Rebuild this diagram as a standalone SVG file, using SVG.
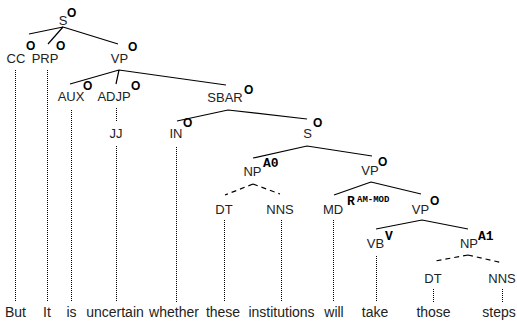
<svg xmlns="http://www.w3.org/2000/svg" width="517" height="326" viewBox="0 0 517 326">
<style>
.lb{font-family:"Liberation Sans",Arial,sans-serif;font-size:13px;fill:#222;text-anchor:middle}
.wd{font-family:"Liberation Sans",Arial,sans-serif;font-size:14px;fill:#222;text-anchor:middle}
.sp{font-family:"Liberation Mono","Courier New",monospace;font-size:13px;font-weight:bold;fill:#000}
.so{font-family:"Liberation Sans",Arial,sans-serif;font-size:12px;font-weight:bold;fill:#000}
.sm{font-family:"Liberation Mono","Courier New",monospace;font-size:9px;font-weight:bold;fill:#000}
.e{stroke:#000;stroke-width:1.2;fill:none}
.d{stroke:#000;stroke-width:1.2;fill:none;stroke-dasharray:5,4}
.t{stroke:#000;stroke-width:1;fill:none;stroke-dasharray:1,1}
</style>
<rect width="517" height="326" fill="#fff"/>
<g id="connectors">
<path class="e" d="M63 27L29 34M63 27L48 44M63 27L118 44"/>
<path class="e" d="M119 70L70 84M119 70L116 84M119 70L226 85"/>
<path class="e" d="M228 110L177 121M228 110L307 119"/>
<path class="e" d="M307 146L253 158M307 146L372 156"/>
<path class="d" d="M253 184L225 195M253 184L280 194"/>
<path class="e" d="M371 182L334 195M371 182L421 194"/>
<path class="e" d="M422 220L376 229M422 220L468 229"/>
<path class="d" d="M468 255L435 261M468 255L503 263"/>
<path class="t" d="M15.5 70V302M47.5 70V302M71.5 110V302M116.5 108V121M116.5 146V302M176.5 147V302M224.5 220V302M281.5 220V302M333.5 220V302M376.5 256V302M433.5 289V302M502.5 289V302"/>
</g>
<g id="n-S"><text class="lb" x="63" y="25">S</text><text class="so" x="67" y="17">O</text></g>
<g id="n-CC"><text class="lb" x="16" y="63">CC</text><text class="so" x="26" y="50">O</text></g>
<g id="n-PRP"><text class="lb" x="45" y="63">PRP</text><text class="so" x="56" y="50">O</text></g>
<g id="n-VP1"><text class="lb" x="119.5" y="63">VP</text><text class="so" x="128" y="51">O</text></g>
<g id="n-AUX"><text class="lb" x="71" y="101">AUX</text><text class="so" x="83" y="90">O</text></g>
<g id="n-ADJP"><text class="lb" x="114" y="101">ADJP</text><text class="so" x="131" y="90">O</text></g>
<g id="n-SBAR"><text class="lb" x="225" y="102">SBAR</text><text class="so" x="244" y="94">O</text></g>
<g id="n-JJ"><text class="lb" x="116" y="138">JJ</text></g>
<g id="n-IN"><text class="lb" x="176" y="138">IN</text><text class="so" x="183" y="127">O</text></g>
<g id="n-S2"><text class="lb" x="307.5" y="138">S</text><text class="so" x="313" y="127">O</text></g>
<g id="n-NP1"><text class="lb" x="252.5" y="176">NP</text><text class="sp" x="263" y="167">A0</text></g>
<g id="n-VP2"><text class="lb" x="370" y="175">VP</text><text class="so" x="378" y="166">O</text></g>
<g id="n-DT1"><text class="lb" x="224" y="214">DT</text></g>
<g id="n-NNS1"><text class="lb" x="280" y="214">NNS</text></g>
<g id="n-MD"><text class="lb" x="333" y="214">MD</text><text class="sp" x="347" y="205">R</text><text class="sm" x="357" y="202">AM-MOD</text></g>
<g id="n-VP3"><text class="lb" x="420.5" y="214">VP</text><text class="so" x="430" y="205">O</text></g>
<g id="n-VB"><text class="lb" x="375.5" y="248">VB</text><text class="sp" x="385" y="240">V</text></g>
<g id="n-NP2"><text class="lb" x="469" y="248">NP</text><text class="sp" x="478" y="240">A1</text></g>
<g id="n-DT2"><text class="lb" x="433" y="283">DT</text></g>
<g id="n-NNS2"><text class="lb" x="502" y="283">NNS</text></g>
<g id="words">
<text class="wd" x="15.5" y="317">But</text>
<text class="wd" x="47" y="317">It</text>
<text class="wd" x="71.5" y="317">is</text>
<text class="wd" x="115" y="317">uncertain</text>
<text class="wd" x="174" y="317">whether</text>
<text class="wd" x="223" y="317">these</text>
<text class="wd" x="281.5" y="317">institutions</text>
<text class="wd" x="334" y="317">will</text>
<text class="wd" x="375" y="317">take</text>
<text class="wd" x="433.5" y="317">those</text>
<text class="wd" x="499" y="317">steps</text>
</g>
</svg>
